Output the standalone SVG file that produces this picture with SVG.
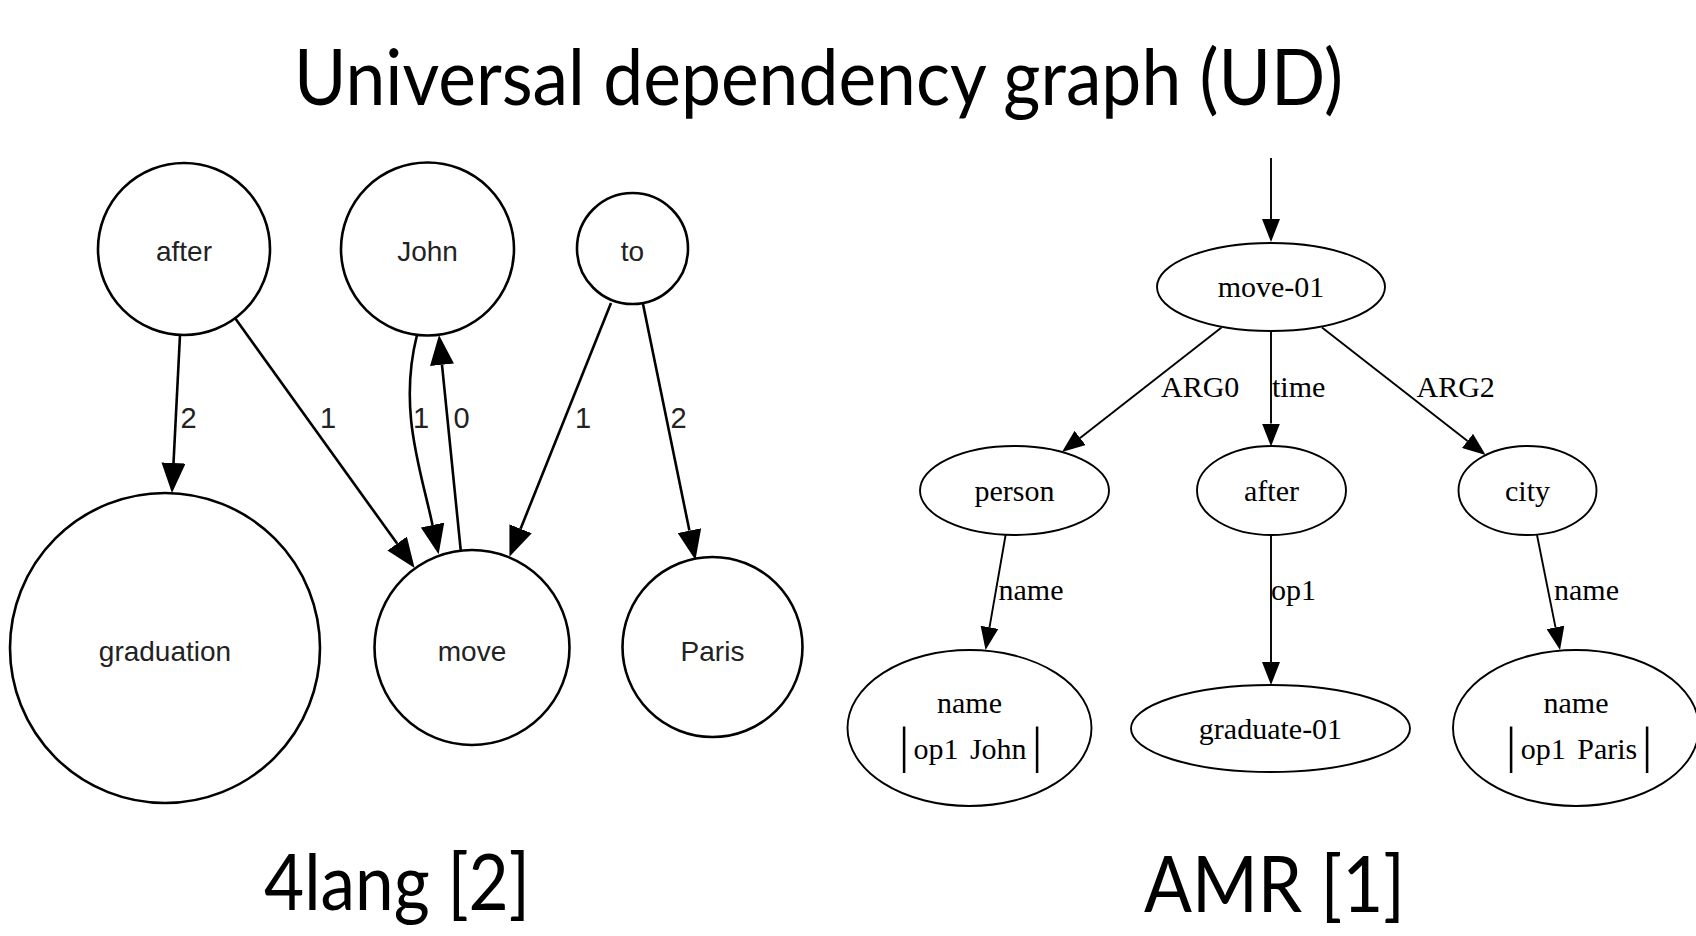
<svg xmlns="http://www.w3.org/2000/svg" width="1696" height="936" viewBox="0 0 1696 936">
  <style>
    .title { font-family: Lato, "Liberation Sans", Arial, sans-serif; font-weight: 400; font-size: 77px; fill: #000; }
    .fl-node { fill: none; stroke: #000; stroke-width: 2.6; }
    .fl-label { font-family: "Liberation Sans", Arial, sans-serif; font-size: 28px; fill: #222; text-anchor: middle; }
    .fl-edge { fill: none; stroke: #000; stroke-width: 2.6; marker-end: url(#arrowBig); }
    .fl-elabel { font-family: "Liberation Sans", Arial, sans-serif; font-size: 29px; fill: #222; }
    .amr-node { fill: none; stroke: #000; stroke-width: 1.9; }
    .amr-label { font-family: "Liberation Serif", "Times New Roman", serif; font-size: 30px; fill: #000; text-anchor: middle; }
    .amr-edge { fill: none; stroke: #000; stroke-width: 1.9; marker-end: url(#arrowSmall); }
    .amr-elabel { font-family: "Liberation Serif", "Times New Roman", serif; font-size: 30px; fill: #000; }
    .bar { font-family: "Liberation Serif", "Times New Roman", serif; font-size: 51px; fill: #000; text-anchor: middle; }
  </style>
  <defs>
    <marker id="arrowBig" markerUnits="userSpaceOnUse" viewBox="0 0 30 24" refX="0" refY="12" markerWidth="30" markerHeight="24" orient="auto">
      <path d="M0,0 L30,12 L0,24 Z" fill="#000"/>
    </marker>
    <marker id="arrowSmall" markerUnits="userSpaceOnUse" viewBox="0 0 23 18" refX="0" refY="9" markerWidth="23" markerHeight="18" orient="auto">
      <path d="M0,0 L23,9 L0,18 Z" fill="#000"/>
    </marker>
  </defs>

  <rect width="1696" height="936" fill="#fff"/>

  <!-- headings -->
  <text class="title" x="294" y="105" textLength="1049" lengthAdjust="spacingAndGlyphs">Universal dependency graph (UD)</text>
  <text class="title" x="264" y="910" textLength="266" lengthAdjust="spacingAndGlyphs">4lang [2]</text>
  <text class="title" x="1144" y="912" textLength="261" lengthAdjust="spacingAndGlyphs">AMR [1]</text>

  <!-- 4lang graph: connectors -->
  <g id="fourlang-edges">
    <path class="fl-edge" d="M180,335 L173.5,463"/>
    <path class="fl-edge" d="M235,318 L397.1,543.6"/>
    <path class="fl-edge" d="M417,335 C398,410 421,470 432.5,525"/>
    <path class="fl-edge" d="M460.7,550 L442,364.8"/>
    <path class="fl-edge" d="M611,303 L520.6,528.8"/>
    <path class="fl-edge" d="M643,304 L689.4,530.6"/>
    <text class="fl-elabel" x="180.5" y="428">2</text>
    <text class="fl-elabel" x="320" y="428">1</text>
    <text class="fl-elabel" x="413" y="428">1</text>
    <text class="fl-elabel" x="453.5" y="428">0</text>
    <text class="fl-elabel" x="575" y="428">1</text>
    <text class="fl-elabel" x="670.5" y="428">2</text>
  </g>

  <!-- 4lang graph: nodes -->
  <g id="fl-after">
    <circle class="fl-node" cx="184" cy="249" r="86"/>
    <text class="fl-label" x="184" y="261">after</text>
  </g>
  <g id="fl-john">
    <circle class="fl-node" cx="427.5" cy="249" r="86.5"/>
    <text class="fl-label" x="427.5" y="261">John</text>
  </g>
  <g id="fl-to">
    <circle class="fl-node" cx="632.5" cy="248.5" r="55.5"/>
    <text class="fl-label" x="632.5" y="260.5">to</text>
  </g>
  <g id="fl-graduation">
    <circle class="fl-node" cx="165" cy="648" r="155"/>
    <text class="fl-label" x="165" y="660.5">graduation</text>
  </g>
  <g id="fl-move">
    <circle class="fl-node" cx="472" cy="647.5" r="97.5"/>
    <text class="fl-label" x="472" y="660.5">move</text>
  </g>
  <g id="fl-paris">
    <circle class="fl-node" cx="712.5" cy="647" r="90"/>
    <text class="fl-label" x="712.5" y="660.5">Paris</text>
  </g>

  <!-- AMR graph: connectors -->
  <g id="amr-edges">
    <path class="amr-edge" d="M1271,158 L1271,219"/>
    <path class="amr-edge" d="M1221.5,327.5 L1080.1,437.9"/>
    <path class="amr-edge" d="M1271,331 L1271,423.5"/>
    <path class="amr-edge" d="M1322,327.5 L1467.5,440.9"/>
    <path class="amr-edge" d="M1005.6,535 L989.5,627.3"/>
    <path class="amr-edge" d="M1271,535 L1271,662"/>
    <path class="amr-edge" d="M1537,535 L1555.5,627.4"/>
    <text class="amr-elabel" x="1161" y="397">ARG0</text>
    <text class="amr-elabel" x="1272" y="397">time</text>
    <text class="amr-elabel" x="1416.5" y="397">ARG2</text>
    <text class="amr-elabel" x="998.5" y="600">name</text>
    <text class="amr-elabel" x="1271" y="600">op1</text>
    <text class="amr-elabel" x="1554" y="600">name</text>
  </g>

  <!-- AMR graph: nodes -->
  <g id="amr-move">
    <ellipse class="amr-node" cx="1271" cy="287" rx="114" ry="44"/>
    <text class="amr-label" x="1271" y="297">move-01</text>
  </g>
  <g id="amr-person">
    <ellipse class="amr-node" cx="1014.5" cy="490.5" rx="94.5" ry="44.5"/>
    <text class="amr-label" x="1014.5" y="500.5">person</text>
  </g>
  <g id="amr-after">
    <ellipse class="amr-node" cx="1271.5" cy="490.5" rx="74.5" ry="44.5"/>
    <text class="amr-label" x="1271.5" y="500.5">after</text>
  </g>
  <g id="amr-city">
    <ellipse class="amr-node" cx="1527.5" cy="490.5" rx="69" ry="44.5"/>
    <text class="amr-label" x="1527.5" y="500.5">city</text>
  </g>
  <g id="amr-name-john">
    <ellipse class="amr-node" cx="969.5" cy="728" rx="122" ry="78"/>
    <text class="amr-label" x="969.5" y="713">name</text>
    <text class="bar" x="904" y="762.4">|</text>
    <text class="amr-label" x="970" y="759" xml:space="preserve" word-spacing="4">op1 John</text>
    <text class="bar" x="1037" y="762.4">|</text>
  </g>
  <g id="amr-graduate">
    <ellipse class="amr-node" cx="1270.5" cy="728.5" rx="139.5" ry="43.5"/>
    <text class="amr-label" x="1270.5" y="738.5">graduate-01</text>
  </g>
  <g id="amr-name-paris">
    <ellipse class="amr-node" cx="1576" cy="728" rx="123" ry="78"/>
    <text class="amr-label" x="1576" y="713">name</text>
    <text class="bar" x="1511" y="762.4">|</text>
    <text class="amr-label" x="1579" y="759" xml:space="preserve" word-spacing="4">op1 Paris</text>
    <text class="bar" x="1647" y="762.4">|</text>
  </g>
</svg>
